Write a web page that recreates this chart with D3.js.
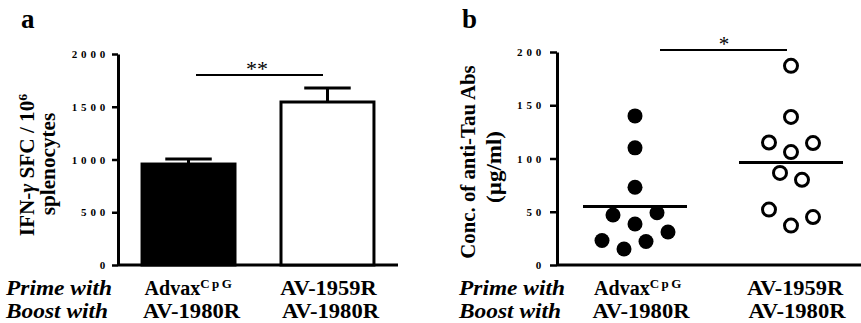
<!DOCTYPE html>
<html><head><meta charset="utf-8">
<script src="https://cdn.jsdelivr.net/npm/d3@7"></script>
<style>
body{margin:0;background:#fff}
svg{display:block}
text{font-family:"Liberation Serif","Times New Roman",serif;font-weight:bold;fill:#000}
</style>
</head><body><svg id="c" width="861" height="323"></svg>
<script>
// ---------- data ----------
const groups = ["Advax", "AV-1959R"];           // prime
const boostLabels = ["AV-1980R", "AV-1980R"];   // boost
const barMeans = [957, 1545];
const barErrors = [48, 133];
const ticksA = [0, 500, 1000, 1500, 2000];
const ticksB = [0, 50, 100, 150, 200];
const dotsAdvax = [140, 110, 73, 47, 49, 38.5, 31, 23, 22, 15];
const slotsAdvax = [0, 0, 0, -2, 2, 0, 3, -3, 1, -1];
const dotsAV = [187, 139, 115, 114.5, 106, 86.5, 80, 52, 45, 37];
const slotsAV = [0, 0, -2, 2, 0, -1, 1, -2, 2, 0];

const svg = d3.select("#c");
const W = 861;

function stretch(sel, k) {
  sel.each(function () {
    const w = this.getComputedTextLength();
    d3.select(this).attr("textLength", w * k).attr("lengthAdjust", "spacingAndGlyphs");
  });
  return sel;
}

function styleAxis(g) {
  g.select(".domain").attr("stroke", "#000").attr("stroke-width", 3);
  g.selectAll(".tick line").attr("stroke", "#000").attr("stroke-width", 2.5);
  g.selectAll(".tick text")
    .style("font-family", '"Liberation Serif",serif')
    .style("font-weight", "bold")
    .style("font-size", "11px")
    .attr("letter-spacing", "3.8px")
    .attr("dx", "2px");
}

// ---------- panel a ----------
const yA = d3.scaleLinear().domain([0, 2000]).range([265, 54]);
const xA = d3.scaleBand().domain(groups).range([118, 398]).paddingInner(0.331).paddingOuter(0.173);

svg.append("g").attr("transform", "translate(118,0)")
  .call(d3.axisLeft(yA).tickValues(ticksA).tickSize(6).tickSizeOuter(0).tickPadding(5).tickFormat(d3.format("d")))
  .call(styleAxis);
svg.append("line").attr("x1", xA.range()[0]).attr("x2", xA.range()[1])
  .attr("y1", yA(0)).attr("y2", yA(0)).attr("stroke", "#000").attr("stroke-width", 3);

// error bars
const ea = svg.append("g");
groups.forEach((g, i) => {
  const cx = xA(g) + xA.bandwidth() / 2;
  ea.append("line").attr("x1", cx).attr("x2", cx).attr("y1", yA(barMeans[i])).attr("y2", yA(barMeans[i] + barErrors[i]))
    .attr("stroke", "#000").attr("stroke-width", 3);
  ea.append("line").attr("x1", cx - xA.bandwidth() * 0.25).attr("x2", cx + xA.bandwidth() * 0.25)
    .attr("y1", yA(barMeans[i] + barErrors[i])).attr("y2", yA(barMeans[i] + barErrors[i]))
    .attr("stroke", "#000").attr("stroke-width", 3);
});
svg.append("g").selectAll("rect").data(groups).join("rect")
  .attr("x", d => xA(d)).attr("width", xA.bandwidth())
  .attr("y", (d, i) => yA(barMeans[i])).attr("height", (d, i) => yA(0) - yA(barMeans[i]))
  .attr("fill", (d, i) => i === 0 ? "#000" : "#fff")
  .attr("stroke", "#000").attr("stroke-width", 3);

// significance a
svg.append("line").attr("x1", 196).attr("x2", 323).attr("y1", 75).attr("y2", 75).attr("stroke", "#000").attr("stroke-width", 2);
svg.append("text").attr("x", 257).attr("y", 76).attr("text-anchor", "middle").style("font-size", "22px").style("font-weight", "normal").text("**");

// y title a
const ta = svg.append("g").attr("transform", "translate(34,165) rotate(-90)");
const ta1 = ta.append("text").attr("text-anchor", "middle").style("font-size", "20px");
ta1.append("tspan").text("IFN-");
ta1.append("tspan").style("font-style", "italic").text("γ");
ta1.append("tspan").text(" SFC / 10");
ta1.append("tspan").attr("dy", "-7").style("font-size", "13px").text("6");
stretch(ta1, 1.06);
stretch(ta.append("text").attr("text-anchor", "middle").attr("x", 1).attr("y", 21).style("font-size", "20px").text("splenocytes"), 1.06);

svg.append("text").attr("x", 21).attr("y", 28).style("font-size", "27px").text("a");

// ---------- panel b ----------
const yB = d3.scaleLinear().domain([0, 200]).range([265, 52]);
const xB = d3.scalePoint().domain(groups).range([557, 869]).padding(0.5);
const slotW = 11;

svg.append("g").attr("transform", "translate(557,0)")
  .call(d3.axisLeft(yB).tickValues(ticksB).tickSize(7).tickSizeOuter(0).tickPadding(7).tickFormat(d3.format("d")))
  .call(styleAxis);
svg.append("line").attr("x1", 557).attr("x2", W).attr("y1", yB(0)).attr("y2", yB(0)).attr("stroke", "#000").attr("stroke-width", 3);

svg.append("g").selectAll("circle").data(dotsAdvax).join("circle")
  .attr("cx", (d, i) => xB(groups[0]) + slotsAdvax[i] * slotW).attr("cy", d => yB(d))
  .attr("r", 7.5).attr("fill", "#000");
svg.append("g").selectAll("circle").data(dotsAV).join("circle")
  .attr("cx", (d, i) => xB(groups[1]) + slotsAV[i] * slotW).attr("cy", d => yB(d))
  .attr("r", 6.5).attr("fill", "#fff").attr("stroke", "#000").attr("stroke-width", 3);

[dotsAdvax, dotsAV].forEach((arr, i) => {
  const m = d3.mean(arr);
  const cx = xB(groups[i]);
  svg.append("line").attr("x1", cx - 52).attr("x2", cx + 52).attr("y1", yB(m)).attr("y2", yB(m))
    .attr("stroke", "#000").attr("stroke-width", 3);
});

svg.append("line").attr("x1", 660).attr("x2", 787).attr("y1", 50).attr("y2", 50).attr("stroke", "#000").attr("stroke-width", 2);
svg.append("text").attr("x", 724).attr("y", 51).attr("text-anchor", "middle").style("font-size", "21px").style("font-weight", "normal").text("*");

const tb = svg.append("g").attr("transform", "translate(475,162) rotate(-90)");
stretch(tb.append("text").attr("text-anchor", "middle").style("font-size", "20px").text("Conc. of anti-Tau Abs"), 1.04);
stretch(tb.append("text").attr("text-anchor", "middle").attr("x", -5).attr("y", 26).style("font-size", "20px").text("(µg/ml)"), 1.15);

svg.append("text").attr("x", 462).attr("y", 28).style("font-size", "27px").text("b");

// ---------- bottom labels ----------
function bottomLabels(x0, centers) {
  stretch(svg.append("text").attr("x", x0).attr("y", 295).style("font-size", "20px").style("font-style", "italic").text("Prime with"), 1.17);
  stretch(svg.append("text").attr("x", x0).attr("y", 318).style("font-size", "20px").style("font-style", "italic").text("Boost with"), 1.17);
  groups.forEach((g, i) => {
    const t = svg.append("text").attr("x", centers[i]).attr("y", 295).attr("text-anchor", "middle").style("font-size", "20px");
    t.append("tspan").text(g);
    if (i === 0) t.append("tspan").attr("dy", -7).attr("letter-spacing", "2.5px").style("font-size", "13px").text("CpG");
    if (i !== 0) stretch(t, 1.12);
    stretch(svg.append("text").attr("x", centers[i] + 2).attr("y", 318).attr("text-anchor", "middle").style("font-size", "20px").text(boostLabels[i]), 1.13);
  });
}
bottomLabels(6, groups.map(g => xA(g) + xA.bandwidth() / 2 + 1));
bottomLabels(459, groups.map(g => xB(g) + 4));
</script>
</body></html>
